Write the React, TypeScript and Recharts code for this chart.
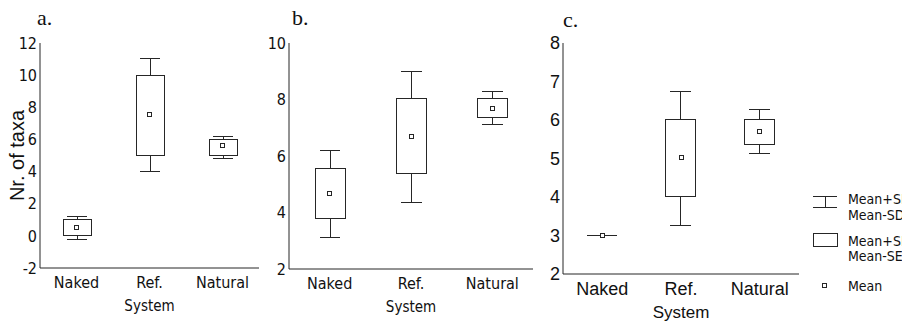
import { ComposedChart, Bar, Scatter, XAxis, YAxis, Label } from "recharts";

const systems = ["Naked", "Ref.", "Natural"];

// a. mean, mean±SE (box), mean±SD (whiskers)
const meanA = [0.5, 7.55, 5.6];
const seA = [[0, 1], [5, 10], [5, 6]];
const sdA = [[-0.2, 1.2], [4, 11.05], [4.8, 6.2]];
const ticksA = [-2, 0, 2, 4, 6, 8, 10, 12];

// b.
const meanB = [4.67, 6.68, 7.69];
const seB = [[3.8, 5.55], [5.37, 8.02], [7.37, 8.02]];
const sdB = [[3.12, 6.2], [4.36, 9.0], [7.11, 8.27]];
const ticksB = [2, 4, 6, 8, 10];

// c.
const meanC = [3, 5.02, 5.69];
const seC = [[3, 3], [4.01, 6.02], [5.36, 6.02]];
const sdC = [[3, 3], [3.27, 6.75], [5.12, 6.26]];
const ticksC = [2, 3, 4, 5, 6, 7, 8];

const INK = "#262626";
const NARROW = "'Liberation Sans Narrow', 'Arial Narrow', 'DejaVu Sans Condensed', sans-serif";
const ARIAL = "'Liberation Sans', Arial, sans-serif";

const Whisker = (props: any) => {
  const { x, width } = props;
  const top = Math.min(props.y, props.y + props.height);
  const h = Math.abs(props.height);
  if (!h) return null;
  const cx = x + width / 2;
  const cap = width * 0.34;
  return (
    <g stroke={INK} strokeWidth={1} shapeRendering="crispEdges">
      <line x1={cx} x2={cx} y1={top} y2={top + h} />
      <line x1={cx - cap} x2={cx + cap} y1={top} y2={top} />
      <line x1={cx - cap} x2={cx + cap} y1={top + h} y2={top + h} />
    </g>
  );
};

const BoxShape = (props: any) => {
  const { x, width } = props;
  const top = Math.min(props.y, props.y + props.height);
  const h = Math.abs(props.height);
  if (!h) {
    return <line x1={x} x2={x + width} y1={top} y2={top} stroke={INK} shapeRendering="crispEdges" />;
  }
  return <rect x={x} y={top} width={width} height={h} fill="#fff" stroke={INK} shapeRendering="crispEdges" />;
};

const MeanMark = (props: any) => (
  <rect x={props.cx - 2} y={props.cy - 2} width={4} height={4} fill="#fff" stroke={INK} shapeRendering="crispEdges" />
);

type PanelProps = {
  left: number;
  width: number;
  axisW: number;
  right: number;
  bottom: number;
  domain: [number, number];
  ticks: number[];
  mean: number[];
  se: number[][];
  sd: number[][];
  font: string;
  tickSize: number;
  tickGap: number;
  titleSize: number;
  barSize: number;
  yLabel?: string;
};

function Panel(p: PanelProps) {
  const rows = systems.map((s, i) => ({ system: s, mean: p.mean[i], se: p.se[i], sd: p.sd[i] }));
  const tick = { fill: "#111", fontFamily: p.font, fontSize: p.tickSize };
  return (
    <div style={{ position: "absolute", left: p.left, top: 0 }}>
      <ComposedChart width={p.width} height={325} data={rows} margin={{ top: 43, right: p.right, bottom: 325 - p.bottom - 25, left: 0 }}>
        <XAxis xAxisId="box" dataKey="system" height={25} tick={tick} tickLine={false} tickSize={2} tickMargin={p.tickGap} axisLine={{ stroke: INK }}>
          <Label value="System" position="bottom" offset={7} style={{ fill: "#111", fontFamily: p.font, fontSize: p.titleSize }} />
        </XAxis>
        <XAxis xAxisId="w" dataKey="system" hide />
        <XAxis xAxisId="top" dataKey="system" orientation="top" height={0} tick={false} tickLine={false} axisLine={{ stroke: INK }} />
        <YAxis domain={p.domain} ticks={p.ticks} width={p.axisW} type="number" tick={tick} tickLine={false} tickSize={1} tickMargin={2} axisLine={{ stroke: INK }} interval={0}>
          {p.yLabel ? (
            <Label value={p.yLabel} angle={-90} position="insideLeft" offset={17} style={{ fill: "#111", fontFamily: ARIAL, fontSize: 20, textAnchor: "middle" }} />
          ) : null}
        </YAxis>
        <YAxis yAxisId="r" orientation="right" domain={p.domain} width={0} tick={false} tickLine={false} axisLine={{ stroke: INK }} />
        <Bar xAxisId="w" dataKey="sd" barSize={p.barSize} shape={Whisker} isAnimationActive={false} />
        <Bar xAxisId="box" dataKey="se" barSize={p.barSize} shape={BoxShape} isAnimationActive={false} />
        <Scatter xAxisId="box" dataKey="mean" shape={MeanMark} isAnimationActive={false} />
      </ComposedChart>
    </div>
  );
}

const titleStyle = (left: number, top: number) => ({
  position: "absolute" as const,
  left,
  top,
  fontFamily: "'Liberation Serif', 'Times New Roman', serif",
  fontSize: 22,
  color: "#111",
  lineHeight: "22px",
});

function LegendBox() {
  return (
    <svg width={90} height={110} style={{ position: "absolute", left: 812, top: 188 }}>
      <g stroke={INK} shapeRendering="crispEdges">
        <line x1={1} x2={25} y1={8} y2={8} />
        <line x1={13} x2={13} y1={8} y2={19} />
        <line x1={1} x2={25} y1={19} y2={19} />
        <rect x={1} y={45} width={24} height={13} fill="#fff" />
        <rect x={10} y={95} width={4} height={4} fill="#fff" />
      </g>
      <g fill="#111" fontFamily={NARROW} fontSize={14}>
        <text x={36} y={16}>Mean+SD</text>
        <text x={36} y={32}>Mean-SD</text>
        <text x={36} y={58}>Mean+SE</text>
        <text x={36} y={73}>Mean-SE</text>
        <text x={36} y={103}>Mean</text>
      </g>
    </svg>
  );
}

export default function App() {
  return (
    <div style={{ position: "absolute", left: 0, top: 0, width: 902, height: 325, overflow: "hidden", background: "#fff" }}>
      <Panel left={0} width={270} axisW={40} right={11} bottom={268} domain={[-2, 12]} ticks={ticksA}
        mean={meanA} se={seA} sd={sdA} font={NARROW} tickSize={16} tickGap={7} titleSize={15} barSize={28} yLabel="Nr. of taxa" />
      <Panel left={250} width={293} axisW={39} right={10} bottom={269} domain={[2, 10]} ticks={ticksB}
        mean={meanB} se={seB} sd={sdB} font={NARROW} tickSize={16} tickGap={7} titleSize={15} barSize={30} />
      <Panel left={520} width={284} axisW={43} right={5} bottom={274} domain={[2, 8]} ticks={ticksC}
        mean={meanC} se={seC} sd={sdC} font={ARIAL} tickSize={18} tickGap={6} titleSize={17} barSize={30} />
      <div style={titleStyle(37, 7)}>a.</div>
      <div style={titleStyle(292, 7)}>b.</div>
      <div style={titleStyle(563, 9)}>c.</div>
      <LegendBox />
    </div>
  );
}
